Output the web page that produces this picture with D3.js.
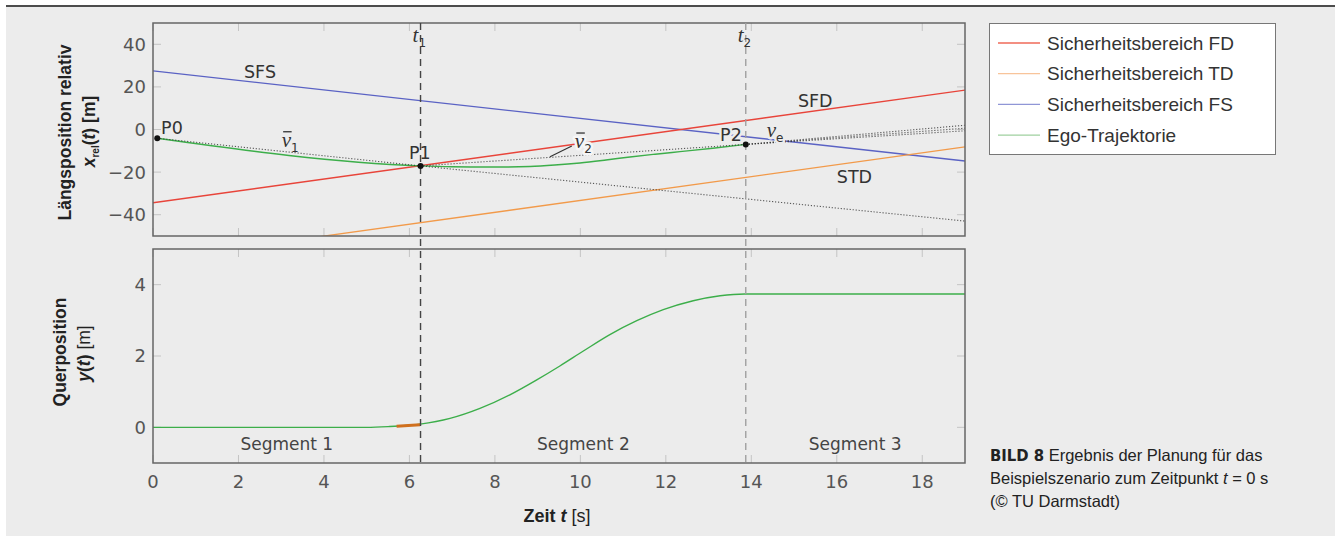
<!DOCTYPE html>
<html><head><meta charset="utf-8">
<script src="https://cdn.jsdelivr.net/npm/d3@7"></script>
<style>
body{margin:0;background:#fff;}
svg{display:block;}
</style></head><body>
<svg id="c" width="1335" height="536"></svg>
<script>
// ---------- data ----------
const timeTicks=[0,2,4,6,8,10,12,14,16,18];
const topTicks=[-40,-20,0,20,40];
const botTicks=[0,2,4];
const sfdT=[0,19], sfdX=[-34.4,18.5];
const stdT=[0,19], stdX=[-61.2,-8.2];
const sfsT=[0,19], sfsX=[27.5,-14.8];
const egoT=[0.1,6.26,7.0,7.65,8.3,8.82,9.4,9.99,10.6,11.16,11.75,12.33,13.1,13.87];
const egoX=[-4.1,-17.1,-17.5,-17.6,-17.6,-17.4,-16.7,-15.7,-14.3,-12.9,-11.6,-10.4,-8.8,-7.0];
const v1T=[0.1,6.26,19], v1X=[-4.1,-17.1,-43];
const v2T=[6.26,13.87], v2X=[-17.1,-7.0];
const veEnd=[2.0,0.6,-0.6];
const latT=[0,2,4,5,5.5,6.25,6.95,7.65,8.35,8.98,9.52,10.07,10.69,11.32,11.94,12.64,13.27,13.85,16,19];
const latY=[0,0,0,0,0.02,0.09,0.25,0.53,0.91,1.33,1.72,2.14,2.60,2.99,3.30,3.55,3.69,3.74,3.74,3.74];
const devT=[5.7,6.25], devY=[0.03,0.075];
const pointNames=["P0","P1","P2"], pointT=[0.1,6.26,13.87], pointX=[-4.1,-17.1,-7.0];
const t1=6.26, t2=13.87;
const legendLabels=["Sicherheitsbereich FD","Sicherheitsbereich TD","Sicherheitsbereich FS","Ego-Trajektorie"];
const segLabels=["Segment 1","Segment 2","Segment 3"];
const segCenters=[3.13,10.07,16.43];

// ---------- styles ----------
const C={red:"#e8443a",orange:"#f29a4a",blue:"#5a62c4",green:"#3cae4a",bg:"#ececec"};
const legendColors=["#ef6a58","#f8c49a","#9096d6","#9fd09f"];
const tickFont="'DejaVu Sans',sans-serif";
const textFont="'Liberation Sans',Arial,sans-serif";

const svg=d3.select("#c");
svg.append("rect").attr("x",6).attr("y",7).attr("width",1329).attr("height",529).attr("fill",C.bg);
svg.append("line").attr("x1",6).attr("x2",1335).attr("y1",6).attr("y2",6).attr("stroke","#111").attr("stroke-width",1.6);

const x=d3.scaleLinear().domain([0,19]).range([153,965]);
const yT=d3.scaleLinear().domain([-50,50]).range([236,23]);
const yB=d3.scaleLinear().domain([-1,5]).range([463,249]);

const defs=svg.append("defs");
defs.append("clipPath").attr("id","clipT").append("rect").attr("x",153).attr("y",23).attr("width",812).attr("height",213);
defs.append("clipPath").attr("id","clipB").append("rect").attr("x",153).attr("y",249).attr("width",812).attr("height",214);

function panel(yS,yTicks,clip){
  const g=svg.append("g");
  const [y0,y1]=yS.range();
  const tk=g.append("g").attr("stroke","#c4c4c4").attr("stroke-width",1);
  timeTicks.forEach(t=>{
    tk.append("line").attr("x1",x(t)).attr("x2",x(t)).attr("y1",y0).attr("y2",y0-8);
    tk.append("line").attr("x1",x(t)).attr("x2",x(t)).attr("y1",y1).attr("y2",y1+8);
  });
  yTicks.forEach(v=>{
    tk.append("line").attr("x1",153).attr("x2",161).attr("y1",yS(v)).attr("y2",yS(v));
    tk.append("line").attr("x1",965).attr("x2",957).attr("y1",yS(v)).attr("y2",yS(v));
  });
  g.selectAll("text.yt").data(yTicks).join("text").attr("class","yt")
    .attr("x",146).attr("y",d=>yS(d)).attr("dy","0.36em").attr("text-anchor","end")
    .attr("font-family",tickFont).attr("font-size",18).attr("fill","#555")
    .text(d=>d<0?"\u2212"+Math.abs(d):d);
  return g.append("g").attr("clip-path",`url(#${clip})`);
}

const gT=panel(yT,topTicks,"clipT");
const gB=panel(yB,botTicks,"clipB");

const lineT=d3.line().x(d=>x(d[0])).y(d=>yT(d[1]));
const lineB=d3.line().x(d=>x(d[0])).y(d=>yB(d[1]));
const zip=(a,b)=>a.map((v,i)=>[v,b[i]]);

gT.append("path").attr("d",lineT(zip(sfsT,sfsX))).attr("stroke",C.blue).attr("fill","none").attr("stroke-width",1.3);
gT.append("path").attr("d",lineT(zip(sfdT,sfdX))).attr("stroke",C.red).attr("fill","none").attr("stroke-width",1.3);
gT.append("path").attr("d",lineT(zip(stdT,stdX))).attr("stroke",C.orange).attr("fill","none").attr("stroke-width",1.3);
gT.append("path").attr("d",d3.line().x(d=>x(d[0])).y(d=>yT(d[1])).curve(d3.curveMonotoneX)(zip(egoT,egoX)))
  .attr("stroke",C.green).attr("fill","none").attr("stroke-width",1.4);
const dot={stroke:"#333",sw:1.1,da:"1.2 1.8"};
function dotted(d){gT.append("path").attr("d",d).attr("stroke",dot.stroke).attr("stroke-width",dot.sw).attr("stroke-dasharray",dot.da).attr("fill","none").attr("opacity",0.8);}
dotted(lineT(zip(v1T,v1X)));
dotted(lineT(zip(v2T,v2X)));
veEnd.forEach(e=>dotted(lineT([[pointT[2],pointX[2]],[19,e]])));

gB.append("path").attr("d",d3.line().x(d=>x(d[0])).y(d=>yB(d[1])).curve(d3.curveMonotoneX)(zip(latT,latY)))
  .attr("stroke",C.green).attr("fill","none").attr("stroke-width",1.4);
gB.append("path").attr("d",lineB(zip(devT,devY))).attr("stroke","#d0701e").attr("fill","none").attr("stroke-width",3);

[yT,yB].forEach(s=>{
  const [a,b]=s.range();
  svg.append("rect").attr("x",153).attr("y",b).attr("width",812).attr("height",a-b)
    .attr("fill","none").attr("stroke","#666").attr("stroke-width",1.5);
});

svg.append("line").attr("x1",x(t1)).attr("x2",x(t1)).attr("y1",yT(50)).attr("y2",yB(-1))
  .attr("stroke","#444").attr("stroke-width",1.4).attr("stroke-dasharray","7 5");
svg.append("line").attr("x1",x(t2)).attr("x2",x(t2)).attr("y1",yT(50)).attr("y2",yB(-1))
  .attr("stroke","#a0a0a0").attr("stroke-width",1.4).attr("stroke-dasharray","7 5");

svg.selectAll("circle.pt").data(pointT).join("circle").attr("class","pt")
  .attr("cx",d=>x(d)).attr("cy",(d,i)=>yT(pointX[i])).attr("r",3).attr("fill","#111");

function lab(txt,t,v,opts={}){
  const el=svg.append("text").attr("x",x(t)).attr("y",yT(v)).attr("font-family",tickFont)
    .attr("font-size",opts.size||17.5).attr("fill","#333").text(txt);
  if(opts.halo) el.attr("stroke",opts.halo).attr("stroke-width",5).attr("paint-order","stroke").attr("stroke-linejoin","round");
  return el;
}
lab("SFS",2.13,24.2);
lab("SFD",15.09,10.6);
lab("STD",16.0,-25.1);
lab(pointNames[0],0.19,-2.1);
lab(pointNames[1],5.99,-13.9);
lab(pointNames[2],13.27,-5.2,{halo:C.bg});

function vlabel(t,v,sub,bar,halo){
  const px=x(t), py=yT(v);
  const g=svg.append("g");
  const tx=g.append("text").attr("x",px).attr("y",py).attr("font-family","'Liberation Serif',serif")
    .attr("font-size",21).attr("fill","#333");
  if(halo) tx.attr("stroke",halo).attr("stroke-width",5).attr("paint-order","stroke").attr("stroke-linejoin","round");
  tx.append("tspan").attr("font-style","italic").text("v");
  tx.append("tspan").attr("font-size",12).attr("dy",5).attr("font-family",tickFont).text(sub);
  if(bar) g.append("line").attr("x1",px+1.5).attr("x2",px+10).attr("y1",py-15).attr("y2",py-15).attr("stroke","#333").attr("stroke-width",1.3);
}
vlabel(3.01,-8.1,"1",true,null);
vlabel(9.87,-8.7,"2",true,"#f6f6f6");
vlabel(14.36,-3.5,"e",false,C.bg);
svg.append("line").attr("x1",x(9.29)).attr("y1",yT(-12.8)).attr("x2",x(9.8)).attr("y2",yT(-7.75)).attr("stroke","#333").attr("stroke-width",1.2);

[[t1,"1"],[t2,"2"]].forEach(([t,s])=>{
  const tx=svg.append("text").attr("x",x(t)-8).attr("y",42).attr("font-family","'Liberation Serif',serif")
    .attr("font-size",21).attr("fill","#333");
  tx.append("tspan").attr("font-style","italic").text("t");
  tx.append("tspan").attr("font-size",12).attr("dy",5).attr("font-family",tickFont).text(s);
});

svg.selectAll("text.seg").data(segLabels).join("text").attr("class","seg")
  .attr("x",(d,i)=>x(segCenters[i])).attr("y",yB(-0.64)).attr("text-anchor","middle")
  .attr("font-family",tickFont).attr("font-size",17).attr("fill","#444").text(d=>d);

svg.selectAll("text.xt").data(timeTicks).join("text").attr("class","xt")
  .attr("x",d=>x(d)).attr("y",488).attr("text-anchor","middle")
  .attr("font-family",tickFont).attr("font-size",18).attr("fill","#555").text(d=>d);

const xt=svg.append("text").attr("x",557).attr("y",522).attr("text-anchor","middle")
  .attr("font-family",textFont).attr("font-size",18).attr("font-weight","bold").attr("fill","#222");
xt.append("tspan").text("Zeit ");
xt.append("tspan").attr("font-style","italic").text("t");
xt.append("tspan").attr("font-weight","normal").text(" [s]");

function rot(x0,y0,build){
  const t=svg.append("text").attr("transform",`translate(${x0},${y0}) rotate(-90)`).attr("text-anchor","middle")
    .attr("font-family",textFont).attr("font-size",17.5).attr("font-weight","bold").attr("fill","#222");
  build(t);
}
rot(71,132.5,t=>t.text("Längsposition relativ"));
rot(95,131.5,t=>{
  t.append("tspan").attr("font-style","italic").text("x");
  t.append("tspan").attr("font-size",10).attr("dy",4).text("rel");
  t.append("tspan").attr("dy",-4).text("(");
  t.append("tspan").attr("font-style","italic").text("t");
  t.append("tspan").text(") [m]");
});
rot(66,352,t=>t.text("Querposition"));
rot(90,353.5,t=>{
  t.append("tspan").attr("font-style","italic").text("y");
  t.append("tspan").text("(");
  t.append("tspan").attr("font-style","italic").text("t");
  t.append("tspan").text(")");
  t.append("tspan").attr("font-weight","normal").text(" [m]");
});

svg.append("rect").attr("x",989.5).attr("y",23.5).attr("width",286).attr("height",131)
  .attr("fill","#fff").attr("stroke","#777").attr("stroke-width",1);
legendLabels.forEach((l,i)=>{
  const cy=43+i*30.7;
  svg.append("line").attr("x1",998).attr("x2",1040).attr("y1",cy).attr("y2",cy).attr("stroke",legendColors[i]).attr("stroke-width",1.3);
  svg.append("text").attr("x",1047).attr("y",cy+6.5).attr("font-family",textFont).attr("font-size",19).attr("fill","#333").text(l);
});

const cap=svg.append("g").attr("font-family",textFont).attr("font-size",16.5).attr("fill","#222");
const c1=cap.append("text").attr("x",990).attr("y",461);
c1.append("tspan").attr("font-weight","bold").attr("font-family","'Liberation Sans Narrow','DejaVu Sans Condensed',sans-serif").text("BILD 8");
c1.append("tspan").text(" Ergebnis der Planung für das");
const c2=cap.append("text").attr("x",990).attr("y",484);
c2.append("tspan").text("Beispielszenario zum Zeitpunkt ");
c2.append("tspan").attr("font-style","italic").text("t");
c2.append("tspan").text(" = 0 s");
cap.append("text").attr("x",990).attr("y",507).text("(© TU Darmstadt)");
</script>
</body></html>
